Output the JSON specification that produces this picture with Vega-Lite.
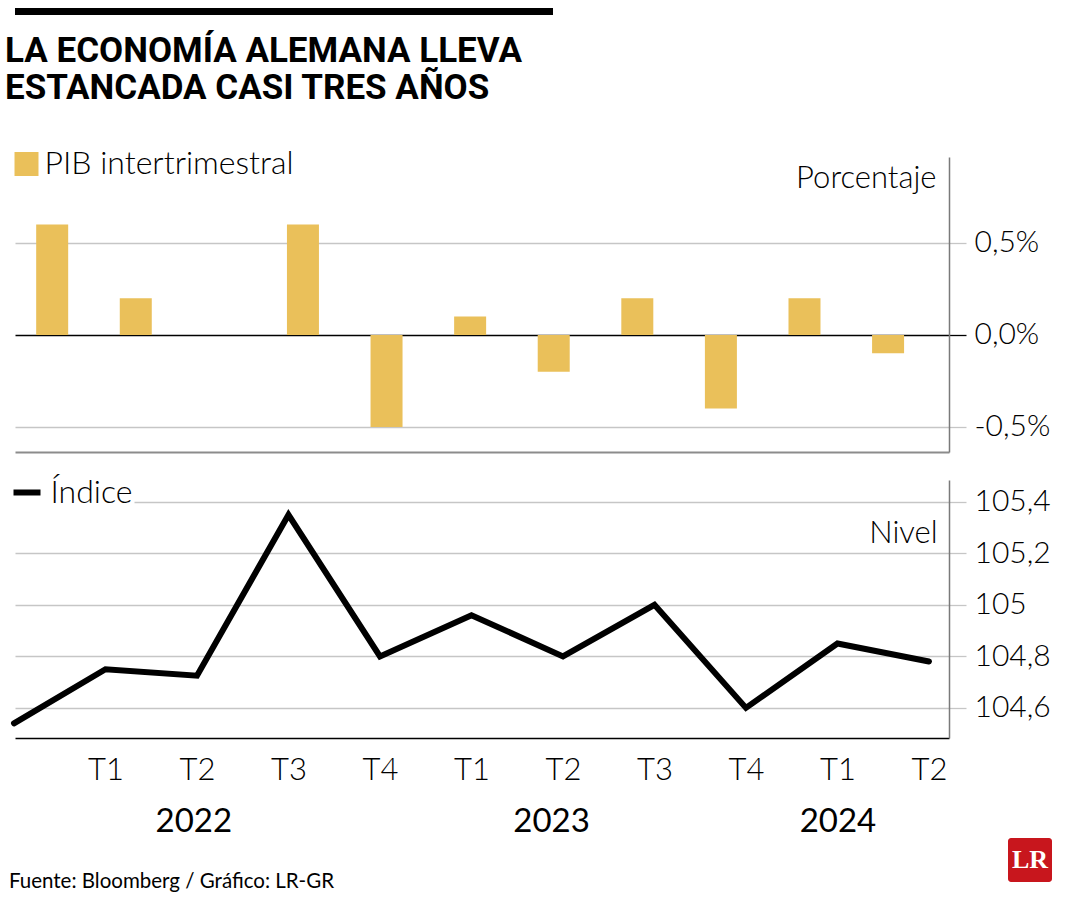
{
  "$schema": "https://vega.github.io/schema/vega-lite/v6.json",
  "padding": {"left": 1, "top": 5, "right": 5, "bottom": 0},
  "background": "white",
  "config": {
    "view": {"stroke": null},
    "font": "Lato"
  },
  "spacing": 0,
  "vconcat": [
    {
      "spacing": 40,
      "vconcat": [
        {
          "width": 538,
          "height": 7,
          "view": {"fill": "#000000", "stroke": null},
          "title": {
            "text": ["LA ECONOMÍA ALEMANA LLEVA", "ESTANCADA CASI TRES AÑOS"],
            "orient": "bottom",
            "anchor": "start",
            "font": "Roboto",
            "fontSize": 35,
            "fontWeight": "bold",
            "lineHeight": 37,
            "offset": 17,
            "dx": -10,
            "color": "#000000",
            "baseline": "top"
          },
          "data": {"values": [{"t": ""}]},
          "mark": {"type": "text"},
          "encoding": {"text": {"field": "t"}}
        },
        {
          "spacing": 22,
          "resolve": {
            "scale": {"fill": "independent", "stroke": "independent"},
            "legend": {"fill": "independent", "stroke": "independent"}
          },
          "vconcat": [
            {
              "width": 934,
              "height": 295,
              "data": {
                "values": [
                  {"periodo": "2021 T4", "pos": 0, "pib": 0.6},
                  {"periodo": "2022 T1", "pos": 1, "pib": 0.2},
                  {"periodo": "2022 T2", "pos": 2, "pib": 0.0},
                  {"periodo": "2022 T3", "pos": 3, "pib": 0.6},
                  {"periodo": "2022 T4", "pos": 4, "pib": -0.5},
                  {"periodo": "2023 T1", "pos": 5, "pib": 0.1},
                  {"periodo": "2023 T2", "pos": 6, "pib": -0.2},
                  {"periodo": "2023 T3", "pos": 7, "pib": 0.2},
                  {"periodo": "2023 T4", "pos": 8, "pib": -0.4},
                  {"periodo": "2024 T1", "pos": 9, "pib": 0.2},
                  {"periodo": "2024 T2", "pos": 10, "pib": -0.1}
                ]
              },
              "mark": {"type": "bar", "size": 32},
              "encoding": {
                "x": {
                  "field": "pos",
                  "type": "quantitative",
                  "scale": {"domain": [-0.385, 10.669], "nice": false},
                  "axis": {"domain": true, "domainColor": "#8c8c8c", "domainWidth": 2, "ticks": false, "labels": false, "grid": false, "title": null}
                },
                "y": {
                  "field": "pib",
                  "type": "quantitative",
                  "stack": null,
                  "scale": {"domain": [-0.636, 0.967], "nice": false},
                  "axis": {
                    "orient": "right",
                    "values": [-0.5, 0, 0.5],
                    "labelExpr": "(datum.value < 0 ? '-' : '') + replace(format(abs(datum.value), '.1f'), '.', ',') + '%'",
                    "grid": true,
                    "gridColor": {"condition": {"test": "datum.value === 0", "value": "#000000"}, "value": "#c6c6c6"},
                    "gridWidth": 1.3,
                    "ticks": true,
                    "tickSize": 17,
                    "tickWidth": 1.3,
                    "tickColor": {"condition": {"test": "datum.value === 0", "value": "#000000"}, "value": "#c6c6c6"},
                    "domain": true,
                    "domainColor": "#7a7a7a",
                    "domainWidth": 1.5,
                    "labelFont": "Lato",
                    "labelFontWeight": 300,
                    "labelFontSize": 30,
                    "labelColor": "#000000",
                    "labelPadding": 8,
                    "title": "Porcentaje",
                    "titleAngle": 0,
                    "titleAlign": "right",
                    "titleBaseline": "alphabetic",
                    "titleX": -13,
                    "titleY": 30,
                    "titleFont": "Lato",
                    "titleFontWeight": 300,
                    "titleFontSize": 31,
                    "titleColor": "#000000"
                  }
                },
                "fill": {
                  "datum": "PIB intertrimestral",
                  "type": "nominal",
                  "scale": {"range": ["#EAC05A"]},
                  "legend": {
                    "orient": "none",
                    "legendX": -6.5,
                    "legendY": -11,
                    "padding": 2,
                    "fillColor": "white",
                    "title": null,
                    "symbolType": "square",
                    "symbolSize": 576,
                    "symbolOpacity": 1,
                    "symbolStrokeWidth": 0,
                    "labelFont": "Lato",
                    "labelFontWeight": 300,
                    "labelFontSize": 32,
                    "labelColor": "#000000",
                    "labelOffset": 2,
                    "labelLimit": 0
                  }
                }
              }
            },
            {
              "width": 934,
              "height": 258,
              "data": {
                "values": [
                  {"periodo": "2021 T4", "pos": 0, "indice": 104.54},
                  {"periodo": "2022 T1", "pos": 1, "indice": 104.75},
                  {"periodo": "2022 T2", "pos": 2, "indice": 104.725},
                  {"periodo": "2022 T3", "pos": 3, "indice": 105.35},
                  {"periodo": "2022 T4", "pos": 4, "indice": 104.8},
                  {"periodo": "2023 T1", "pos": 5, "indice": 104.96},
                  {"periodo": "2023 T2", "pos": 6, "indice": 104.8},
                  {"periodo": "2023 T3", "pos": 7, "indice": 105.0},
                  {"periodo": "2023 T4", "pos": 8, "indice": 104.6},
                  {"periodo": "2024 T1", "pos": 9, "indice": 104.85},
                  {"periodo": "2024 T2", "pos": 10, "indice": 104.78}
                ]
              },
              "layer": [
                {
                  "mark": {"type": "line", "strokeWidth": 6, "strokeCap": "round", "strokeJoin": "miter"},
                  "encoding": {
                    "x": {
                      "field": "pos",
                      "type": "quantitative",
                      "scale": {"domain": [0.011, 10.219], "nice": false},
                      "axis": {
                        "orient": "bottom",
                        "values": [1, 2, 3, 4, 5, 6, 7, 8, 9, 10],
                        "labelExpr": "['','T1','T2','T3','T4','T1','T2','T3','T4','T1','T2'][datum.value]",
                        "domain": true,
                        "domainColor": "#000000",
                        "domainWidth": 1.5,
                        "ticks": false,
                        "grid": false,
                        "labelFont": "Lato",
                        "labelFontWeight": 300,
                        "labelFontSize": 31,
                        "labelColor": "#000000",
                        "labelPadding": 17,
                        "labelDx": -9,
                        "labelFlush": false,
                        "labelOverlap": false,
                        "title": null
                      }
                    },
                    "y": {
                      "field": "indice",
                      "type": "quantitative",
                      "scale": {"domain": [104.483, 105.485], "nice": false, "zero": false},
                      "axis": {
                        "orient": "right",
                        "values": [104.6, 104.8, 105, 105.2, 105.4],
                        "labelExpr": "replace(format(datum.value, '.1~f'), '.', ',')",
                        "grid": true,
                        "gridColor": "#c6c6c6",
                        "gridWidth": 1.3,
                        "ticks": true,
                        "tickSize": 17,
                        "tickWidth": 1.3,
                        "tickColor": "#c6c6c6",
                        "domain": true,
                        "domainColor": "#7a7a7a",
                        "domainWidth": 1.5,
                        "labelFont": "Lato",
                        "labelFontWeight": 300,
                        "labelFontSize": 30,
                        "labelColor": "#000000",
                        "labelPadding": 8,
                        "title": "Nivel",
                        "titleAngle": 0,
                        "titleAlign": "right",
                        "titleBaseline": "alphabetic",
                        "titleX": -12,
                        "titleY": 62,
                        "titleFont": "Lato",
                        "titleFontWeight": 300,
                        "titleFontSize": 31,
                        "titleColor": "#000000"
                      }
                    },
                    "stroke": {
                      "datum": "Índice",
                      "type": "nominal",
                      "scale": {"range": ["#000000"]},
                      "legend": {
                        "orient": "none",
                        "legendX": -6.5,
                        "legendY": -6,
                        "padding": 2,
                        "fillColor": "white",
                        "title": null,
                        "symbolType": "stroke",
                        "symbolSize": 729,
                        "symbolStrokeWidth": 6,
                        "labelFont": "Lato",
                        "labelFontWeight": 300,
                        "labelFontSize": 32,
                        "labelColor": "#000000",
                        "labelOffset": 7,
                        "labelLimit": 0
                      }
                    }
                  }
                },
                {
                  "mark": {"type": "point", "opacity": 0},
                  "encoding": {
                    "x": {
                      "field": "pos",
                      "type": "quantitative",
                      "axis": {
                        "orient": "bottom",
                        "values": [1.96, 5.87, 9.0],
                        "labelExpr": "datum.value < 3 ? '2022' : datum.value < 7 ? '2023' : '2024'",
                        "domain": false,
                        "ticks": false,
                        "grid": false,
                        "labelFont": "Lato",
                        "labelFontWeight": 400,
                        "labelFontSize": 33,
                        "labelColor": "#000000",
                        "labelPadding": 67,
                        "labelFlush": false,
                        "labelOverlap": false,
                        "title": null
                      }
                    },
                    "y": {"field": "indice", "type": "quantitative"}
                  }
                }
              ],
              "resolve": {"axis": {"x": "independent"}}
            }
          ]
        }
      ]
    },
    {
      "spacing": 673,
      "hconcat": [
        {
          "width": 313,
          "height": 44,
          "data": {"values": [{"t": "Fuente: Bloomberg / Gráfico: LR-GR"}]},
          "mark": {"type": "text", "font": "Lato", "fontWeight": 400, "fontSize": 20.5, "color": "#000000", "align": "center", "baseline": "middle", "dy": 22},
          "encoding": {"text": {"field": "t"}}
        },
        {
          "width": 44,
          "height": 44,
          "view": {"fill": "#C8161D", "stroke": null, "cornerRadius": 3},
          "data": {"values": [{"t": "LR"}]},
          "mark": {"type": "text", "font": "Liberation Serif", "fontWeight": "bold", "fontSize": 26, "color": "#ffffff", "align": "center", "baseline": "middle"},
          "encoding": {"text": {"field": "t"}}
        }
      ]
    }
  ]
}
